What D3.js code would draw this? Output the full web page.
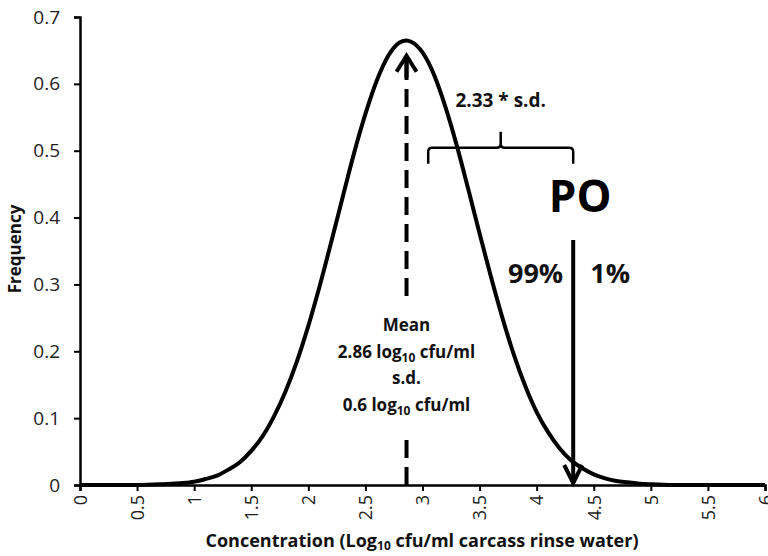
<!DOCTYPE html>
<html>
<head>
<meta charset="utf-8">
<script src="https://cdn.jsdelivr.net/npm/d3@7"></script>
<style>
  html, body { margin: 0; padding: 0; background: #fff; }
  svg { display: block; font-family: "Open Sans", "Liberation Sans", sans-serif; }
</style>
</head>
<body>
<svg id="chart" width="768" height="556"></svg>
<script>
// Concentration (log10 cfu/ml) and the frequency
const concentration = [0, 0.5, 0.7, 0.8, 0.9, 1.0, 1.1, 1.2, 1.3, 1.4, 1.5, 1.6, 1.7, 1.8, 1.9,
  2.0, 2.1, 2.2, 2.3, 2.4, 2.5, 2.6, 2.7, 2.8, 2.86, 2.9, 3.0, 3.1, 3.2, 3.3, 3.4, 3.5, 3.6, 3.7,
  3.8, 3.9, 4.0, 4.1, 4.2, 4.3, 4.4, 4.5, 4.6, 4.7, 4.8, 4.9, 5.0, 5.2, 5.5, 6.0];
const frequency = [0, 0, 0.001, 0.002, 0.003, 0.005, 0.009, 0.014, 0.023, 0.034, 0.051, 0.073,
  0.103, 0.140, 0.185, 0.238, 0.298, 0.363, 0.430, 0.496, 0.555, 0.605, 0.642, 0.662, 0.665,
  0.663, 0.647, 0.614, 0.566, 0.508, 0.443, 0.376, 0.311, 0.250, 0.195, 0.148, 0.109, 0.079,
  0.055, 0.037, 0.025, 0.016, 0.010, 0.006, 0.004, 0.002, 0.001, 0, 0, 0];

const xTicks = [0, 0.5, 1, 1.5, 2, 2.5, 3, 3.5, 4, 4.5, 5, 5.5, 6];
const yTicks = [0, 0.1, 0.2, 0.3, 0.4, 0.5, 0.6, 0.7];

// Annotation values
const meanValue = 2.86;
const poValue = 4.32;
const braceRange = [3.05, 4.32];
const braceLevel = 0.5;
const meanLines = ["Mean", ["2.86 log", "10", " cfu/ml"], "s.d.", ["0.6 log", "10", " cfu/ml"]];

const svg = d3.select("#chart");
const x = d3.scaleLinear().domain([0, 6]).range([80, 765]);
const y = d3.scaleLinear().domain([0, 0.7]).range([485, 17]);

// Axes
const xAxis = svg.append("g")
  .attr("transform", `translate(0,${y(0)})`)
  .call(d3.axisBottom(x).tickValues(xTicks).tickFormat(d3.format("~g")).tickSizeOuter(0).tickSize(6));
xAxis.select(".domain").attr("stroke", "#000").attr("stroke-width", 2.5);
xAxis.selectAll(".tick line").attr("stroke", "#000").attr("stroke-width", 2);
xAxis.selectAll(".tick text")
  .attr("transform", "rotate(-90)")
  .attr("x", -10).attr("y", 0).attr("dy", "0.35em")
  .attr("text-anchor", "end")
  .attr("font-size", 18).attr("fill", "#222")
  .style("font-family", "'Open Sans', sans-serif");

const yAxis = svg.append("g")
  .attr("transform", `translate(${x(0)},0)`)
  .call(d3.axisLeft(y).tickValues(yTicks).tickFormat(d3.format("~g")).tickSizeOuter(0).tickSize(6));
yAxis.select(".domain").attr("stroke", "#000").attr("stroke-width", 2.5);
yAxis.selectAll(".tick line").attr("stroke", "#000").attr("stroke-width", 2);
yAxis.selectAll(".tick text")
  .attr("x", -20)
  .attr("font-size", 19).attr("fill", "#222")
  .style("font-family", "'Open Sans', sans-serif");

// Axis titles
const xTitle = svg.append("text")
  .attr("x", 422).attr("y", 547)
  .attr("text-anchor", "middle")
  .attr("font-size", 18).attr("font-weight", "bold").attr("fill", "#111");
xTitle.append("tspan").text("Concentration (Log");
xTitle.append("tspan").attr("font-size", 12).attr("dy", 3).text("10");
xTitle.append("tspan").attr("dy", -3).text(" cfu/ml carcass rinse water)");

svg.append("text")
  .attr("transform", `translate(21,${249}) rotate(-90)`)
  .attr("text-anchor", "middle")
  .attr("font-size", 17).attr("font-weight", "bold").attr("fill", "#111")
  .text("Frequency");

// Distribution curve
const points = concentration.map((c, i) => [c, frequency[i]]);
svg.append("path")
  .datum(points)
  .attr("fill", "none")
  .attr("stroke", "#000")
  .attr("stroke-width", 4)
  .attr("stroke-linejoin", "round")
  .attr("d", d3.line().x(d => x(d[0])).y(d => y(d[1])).curve(d3.curveMonotoneX));

// Dashed mean line with arrowhead at top
const mx = x(meanValue);
const meanTop = y(0.645);
svg.append("line")
  .attr("x1", mx).attr("x2", mx)
  .attr("y1", y(0)).attr("y2", meanTop + 4)
  .attr("stroke", "#000").attr("stroke-width", 4)
  .attr("stroke-dasharray", "18,9");
svg.append("path")
  .attr("d", `M${mx - 10},${meanTop + 18} L${mx},${meanTop + 2} L${mx + 10},${meanTop + 18}`)
  .attr("fill", "none").attr("stroke", "#000").attr("stroke-width", 4)
  .attr("stroke-linejoin", "miter");
svg.append("line")
  .attr("x1", mx).attr("x2", mx).attr("y1", meanTop + 2).attr("y2", meanTop + 24)
  .attr("stroke", "#000").attr("stroke-width", 4);

// Mean / s.d. text box
const boxTop = 304, lineGap = 26.5;
svg.append("rect")
  .attr("x", mx - 70).attr("y", boxTop).attr("width", 140).attr("height", 134)
  .attr("fill", "#fff");
meanLines.forEach((ln, i) => {
  const t = svg.append("text")
    .attr("x", mx).attr("y", boxTop + 27 + i * lineGap)
    .attr("text-anchor", "middle")
    .attr("font-size", 17).attr("font-weight", "bold").attr("fill", "#111");
  if (typeof ln === "string") {
    t.text(ln);
  } else {
    t.append("tspan").text(ln[0]);
    t.append("tspan").attr("font-size", 12).attr("dy", 4).text(ln[1]);
    t.append("tspan").attr("dy", -4).text(ln[2]);
  }
});

// Brace spanning 2.33 * s.d.
const bx0 = x(braceRange[0]), bx1 = x(braceRange[1]);
const by = y(braceLevel) - 3;
const bmid = (bx0 + bx1) / 2;
svg.append("path")
  .attr("d", `M${bx0},${by + 16} L${bx0},${by + 4} Q${bx0},${by} ${bx0 + 4},${by}
              L${bmid - 4},${by} Q${bmid},${by} ${bmid},${by - 4} L${bmid},${by - 16}
              M${bmid},${by - 4} Q${bmid},${by} ${bmid + 4},${by}
              L${bx1 - 4},${by} Q${bx1},${by} ${bx1},${by + 4} L${bx1},${by + 16}`)
  .attr("fill", "none").attr("stroke", "#000").attr("stroke-width", 2.5);
svg.append("text")
  .attr("x", bmid).attr("y", 107)
  .attr("text-anchor", "middle")
  .attr("font-size", 19).attr("font-weight", "bold").attr("fill", "#111")
  .text("2.33 * s.d.");

// PO label and arrow
const px = x(poValue);
svg.append("text")
  .attr("x", px + 7).attr("y", 212)
  .attr("text-anchor", "middle")
  .attr("font-size", 44).attr("font-weight", "bold").attr("fill", "#000")
  .text("PO");
svg.append("line")
  .attr("x1", px).attr("x2", px).attr("y1", 240).attr("y2", y(0) - 2)
  .attr("stroke", "#000").attr("stroke-width", 4);
svg.append("path")
  .attr("d", `M${px - 9},${y(0) - 20} L${px},${y(0) - 2} L${px + 9},${y(0) - 20}`)
  .attr("fill", "none").attr("stroke", "#000").attr("stroke-width", 4);

svg.append("text")
  .attr("x", px - 10).attr("y", 283)
  .attr("text-anchor", "end")
  .attr("font-size", 27).attr("font-weight", "bold").attr("fill", "#111")
  .text("99%");
svg.append("text")
  .attr("x", px + 17).attr("y", 283)
  .attr("text-anchor", "start")
  .attr("font-size", 27).attr("font-weight", "bold").attr("fill", "#111")
  .text("1%");
</script>
</body>
</html>
